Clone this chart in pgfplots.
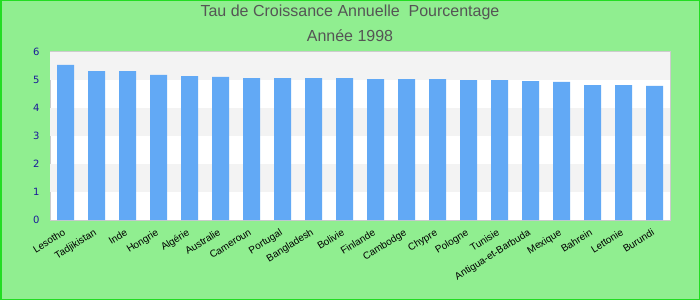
\documentclass[border=0pt]{standalone}
\usepackage{pgfplots}
\pgfplotsset{compat=1.18}
\usepackage{fontspec}
\setmainfont{Liberation Sans}
\newfontfamily\dejavu{DejaVu Sans}
\definecolor{bg}{HTML}{90EE90}
\definecolor{edge}{HTML}{22DD22}
\definecolor{barc}{HTML}{62A9F5}
\definecolor{band}{HTML}{F3F3F3}
\definecolor{tickc}{HTML}{1A1A99}
\definecolor{ttl}{HTML}{555555}
\begin{document}
\begin{tikzpicture}
\fill[bg] (0pt,0pt) rectangle (700pt,300pt);
\draw[edge, line width=1.5pt] (0.75pt,0.75pt) rectangle (699.25pt,299.25pt);
\path[use as bounding box] (0pt,0pt) rectangle (700pt,300pt);
\node[text=ttl, font=\fontsize{16}{19}\selectfont, inner sep=0pt] at (350pt,287.5pt) {Tau de Croissance Annuelle\ \ Pourcentage};
\node[text=ttl, font=\fontsize{16}{19}\selectfont, inner sep=0pt] at (350pt,264.5pt) {Année 1998};
\begin{axis}[
  at={(50pt,80pt)}, anchor=south west, scale only axis,
  width=620pt, height=168pt,
  xmin=-0.5, xmax=19.5, ymin=0, ymax=6,
  ytick={0,1,2,3,4,5,6},
  xtick={0,...,19},
  xticklabels={Lesotho,Tadjikistan,Inde,Hongrie,Algérie,Australie,Cameroun,Portugal,Bangladesh,Bolivie,Finlande,Cambodge,Chypre,Pologne,Tunisie,Antigua-et-Barbuda,Mexique,Bahrein,Lettonie,Burundi},
  major tick length=0pt,
  axis line style={draw=black!20, line width=1pt},
  axis background/.style={fill=white},
  yticklabel style={font=\dejavu\fontsize{10}{12}\selectfont, text=tickc, xshift=-7pt},
  /pgf/number format/assume math mode=true,
  xticklabel style={font=\fontsize{10}{12}\selectfont, rotate=32, anchor=north east, inner sep=1pt, xshift=-6pt, yshift=-4pt},
  ybar, bar width=17pt,
]
\fill[band] (axis cs:-0.5,5) rectangle (axis cs:19.5,6);
\fill[band] (axis cs:-0.5,3) rectangle (axis cs:19.5,4);
\fill[band] (axis cs:-0.5,1) rectangle (axis cs:19.5,2);
\addplot[fill=barc, draw=none] coordinates {
(0,5.54) (1,5.32) (2,5.32) (3,5.18) (4,5.14) (5,5.11) (6,5.07) (7,5.07) (8,5.07) (9,5.07)
(10,5.03) (11,5.03) (12,5.03) (13,5.00) (14,5.00) (15,4.96) (16,4.93) (17,4.82) (18,4.82) (19,4.79)};
\end{axis}
\end{tikzpicture}
\end{document}
